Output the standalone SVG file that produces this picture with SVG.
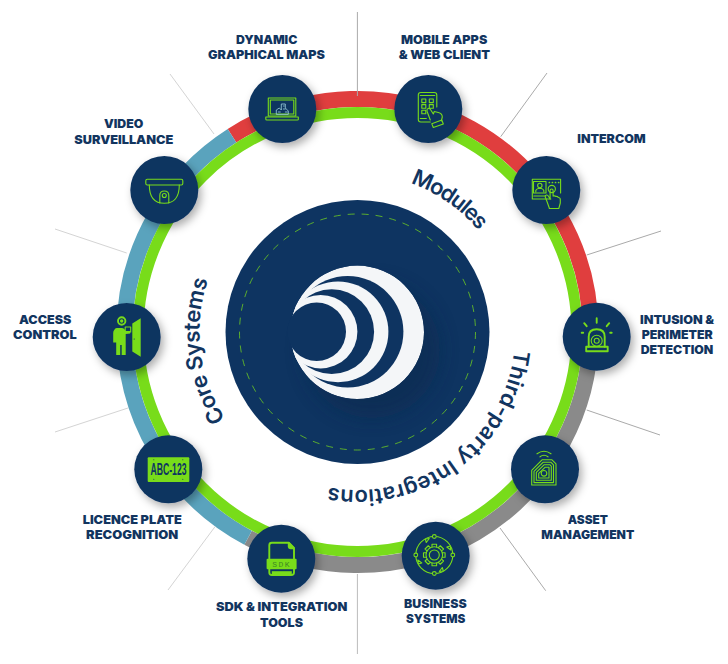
<svg xmlns="http://www.w3.org/2000/svg" xmlns:xlink="http://www.w3.org/1999/xlink" width="728" height="664" viewBox="0 0 728 664">
<style>
.lbl{font-family:"Inter","Liberation Sans",sans-serif;font-weight:900;font-size:12px;fill:#12355f}
.curve{font-family:"Inter","Open Sans","Liberation Sans",sans-serif;font-weight:600;font-size:22px;fill:#12355f}
.disc{fill:#0e3461;filter:url(#sh)}
.ic{fill:none;stroke:#78dc1a;stroke-width:1.1;stroke-linejoin:round;stroke-linecap:round}
.ic2{fill:none;stroke:#78dc1a;stroke-width:1.9;stroke-linejoin:round;stroke-linecap:round}
.fg{fill:#78dc1a}
.spoke{fill:none;stroke-width:1}
</style>
<defs>
<filter id="sh" x="-40%" y="-40%" width="190%" height="190%"><feDropShadow dx="3" dy="4" stdDeviation="4.5" flood-color="#000" flood-opacity=".32"/></filter>
<filter id="soft" x="-40%" y="-40%" width="180%" height="180%"><feGaussianBlur stdDeviation="9"/></filter>
<clipPath id="logoClip"><circle cx="357.3" cy="332.3" r="66.7"/></clipPath>
<clipPath id="mainClip"><circle cx="357.5" cy="332" r="132"/></clipPath>
<path id="track" d="M357.5 174A158 158 0 1 1 357.4 174"/>
<path id="tooth" d="M-2.3 -8V-10.8H2.3V-8"/>
</defs>

<g id="connectors">
<g id="ring">
<path d="M232 135.7A233 233 0 0 1 590.5 336.1" fill="none" stroke="#e03e3e" stroke-width="16"/>
<path d="M590.5 336.1A233 233 0 0 1 248.1 537.7" fill="none" stroke="#8a8a8a" stroke-width="16"/>
<path d="M248.1 537.7A233 233 0 0 1 232 135.7" fill="none" stroke="#5aa3bd" stroke-width="16"/>
<circle cx="357.5" cy="332" r="219.5" fill="none" stroke="#78dc1a" stroke-width="11"/>
</g>
<path class="spoke" stroke="#aaa" d="M357.4 12V96"/>
<path class="spoke" stroke="#aaa" d="M500.7 136.7L547 73"/>
<path class="spoke" stroke="#aaa" d="M586.7 255L661 231"/>
<path class="spoke" stroke="#aaa" d="M586.7 410L660 435"/>
<path class="spoke" stroke="#aaa" d="M500 528L545.7 590.7"/>
<path class="spoke" stroke="#bbb" d="M357.4 574V654"/>
<path class="spoke" stroke="#d4d4d4" d="M215 526.7L168 590"/>
<path class="spoke" stroke="#d4d4d4" d="M128 408L55 432"/>
<path class="spoke" stroke="#d4d4d4" d="M126.7 253L55 229"/>
<path class="spoke" stroke="#d4d4d4" d="M214 134L170 74"/>
</g>

<g id="hub">
<circle cx="357.5" cy="332" r="132" fill="#0e3461"/>
<g clip-path="url(#mainClip)"><circle cx="372" cy="350" r="68" fill="#0a2a50" opacity=".6" filter="url(#soft)"/></g>
<circle cx="357.5" cy="332" r="118" fill="none" stroke="#78dc1a" stroke-opacity=".8" stroke-width=".9" stroke-dasharray="7 7"/>
<g clip-path="url(#logoClip)">
<circle cx="357.3" cy="332.3" r="66.7" fill="#f4f6f8"/>
<circle cx="347.7" cy="331.8" r="55.7" fill="#0e3461"/>
<circle cx="338" cy="331.8" r="50.4" fill="#f4f6f8"/>
<circle cx="331.7" cy="331.7" r="42.4" fill="#0e3461"/>
<circle cx="320.7" cy="331.7" r="36.7" fill="#f4f6f8"/>
</g>
<circle cx="316.7" cy="331.7" r="29.3" fill="#0e3461"/>
</g>

<text class="curve"><textPath xlink:href="#track" href="#track" startOffset="54" textLength="84">Modules</textPath></text>
<text class="curve"><textPath xlink:href="#track" href="#track" startOffset="266" textLength="259">Third-party Integrations</textPath></text>
<text class="curve"><textPath xlink:href="#track" href="#track" startOffset="652" textLength="145">Core Systems</textPath></text>

<g id="node-maps">
<circle class="disc" cx="282.3" cy="109" r="34"/>
<g transform="translate(282.3 109)">
<rect class="ic" x="-14" y="-11" width="27.5" height="18"/>
<rect class="ic" x="-12" y="-9" width="23.5" height="14" stroke-width=".7"/>
<path class="ic" d="M-16.5 8H16V10.5Q16 11 15 11H-15.5Q-16.5 11 -16.5 10Z"/>
<path class="ic" style="stroke:#9fd3de;stroke-width:.8" d="M-6 5V1L-3 -1L-1 1V-5H3V-1L6 2V5ZM-4 3H-2M1 -3H2M1 0H3M3 3H5"/>
<text class="lbl" x="236" y="44.3" textLength="61.3" lengthAdjust="spacingAndGlyphs" transform="translate(-282.3 -109)">DYNAMIC</text>
<text class="lbl" x="208" y="59.3" textLength="117" lengthAdjust="spacingAndGlyphs" transform="translate(-282.3 -109)">GRAPHICAL MAPS</text>
</g>
</g>

<g id="node-mobile">
<circle class="disc" cx="428.3" cy="109" r="34"/>
<g transform="translate(428.3 109)">
<path class="ic" d="M2 13H-7.5Q-10 13 -10 10.5V-14Q-10 -16.5 -7.5 -16.5H6Q8.5 -16.5 8.5 -14V-2"/>
<path class="ic" d="M-8 9.5H-2M-8 -13.5H6.5"/>
<rect class="ic" x="-6.5" y="-10" width="4" height="3.6"/><rect class="ic" x="1" y="-10" width="4" height="3.6"/>
<rect class="ic" x="-6.5" y="-4.4" width="4" height="3.6"/><rect class="ic" x="1" y="-4.4" width="4" height="3.6"/>
<rect class="ic" x="-6.5" y="1.2" width="4" height="3.6"/>
<path class="ic" d="M2 11L-1 3Q-2 0 0 -0.5Q1.5 -1 2.5 1L5 5L6 2.5L10 3.5Q14 4.5 14 8L13 12"/>
<path class="ic" d="M3.5 14.8L13.5 11L15 15L5 18.5Z"/>
<text class="lbl" x="401" y="44.3" textLength="86.3" lengthAdjust="spacingAndGlyphs" transform="translate(-428.3 -109)">MOBILE APPS</text>
<text class="lbl" x="398.7" y="59.3" textLength="91.3" lengthAdjust="spacingAndGlyphs" transform="translate(-428.3 -109)">&amp; WEB CLIENT</text>
</g>
</g>

<g id="node-intercom">
<circle class="disc" cx="546.3" cy="190" r="34"/>
<g transform="translate(546.3 190)">
<path class="ic" d="M4.5 9H-14V-10.7H14.3V3"/>
<rect class="ic" x="-12.8" y="-8.5" width="12.5" height="11.5"/>
<circle class="ic" cx="-6.5" cy="-4.5" r="2.2"/>
<path class="ic" d="M-10.5 2V0.5Q-10 -1 -8 -1.5H-5Q-3 -1 -2.5 0.5V2"/>
<path class="ic" d="M-12.5 6H-0.5"/>
<path class="ic" stroke-dasharray=".1 3" style="stroke-width:1.7" d="M3 -7.5H13"/>
<circle class="ic" cx="5.5" cy="-1" r="3.6"/>
<path class="ic" d="M3 18L0.5 11L-1 7Q-1.5 5.5 0 5Q1.5 4.7 2.3 6.5L3.8 9V0.5Q3.8 -1 5.3 -1Q6.8 -1 6.8 0.5V6Q9 5.5 9.5 6.5Q11.5 6 12 7.5Q14 7.5 14 9.5V13L12.5 18.5H3Z"/>
<text class="lbl" x="577.3" y="142.7" textLength="68.4" lengthAdjust="spacingAndGlyphs" transform="translate(-546.3 -190)">INTERCOM</text>
</g>
</g>

<g id="node-intrusion">
<circle class="disc" cx="596.7" cy="336.7" r="34"/>
<g transform="translate(596.7 336.7)">
<rect class="ic2" x="-10.5" y="10" width="21.5" height="4.5"/>
<path class="ic2" d="M-8 10V0Q-8 -7.5 0 -7.5Q8 -7.5 8 0V10"/>
<circle class="ic" cx="0" cy="4" r="5.5"/><circle class="ic" cx="0" cy="4" r="2.5"/>
<path class="ic2" d="M0 -14V-18.5M-10 -10.5L-12.5 -13.5M10 -10.5L12.5 -13.5M-13.5 -4H-15M13.5 -4H15"/>
<text class="lbl" x="640" y="324" textLength="74" lengthAdjust="spacingAndGlyphs" transform="translate(-596.7 -336.7)">INTUSION &amp;</text>
<text class="lbl" x="641.7" y="339.3" textLength="71" lengthAdjust="spacingAndGlyphs" transform="translate(-596.7 -336.7)">PERIMETER</text>
<text class="lbl" x="640.7" y="354.3" textLength="72.6" lengthAdjust="spacingAndGlyphs" transform="translate(-596.7 -336.7)">DETECTION</text>
</g>
</g>

<g id="node-asset">
<circle class="disc" cx="545" cy="469.3" r="34"/>
<g transform="translate(545 469.3)">
<path class="ic" d="M-3 -9.5H7L11 -5.5V15.7H-13.3V1Z"/>
<path class="ic" d="M-2 -7L6 -7L8.5 -4.5V13.3H-11V2Z"/>
<path class="ic" d="M-1 -4.5H5L6.3 -3.2V11H-8.7V3Z"/>
<path class="ic" d="M0 -2H4V8.7H-6.3V4Z"/>
<circle class="ic" cx="-1" cy="4" r="2.8"/>
<path class="ic" d="M-5 -12.5Q-1 -15.5 3 -12.5M-8 -15.5Q-1 -20.5 6 -15.5"/>
<text class="lbl" x="567.7" y="524" textLength="40.3" lengthAdjust="spacingAndGlyphs" transform="translate(-545 -469.3)">ASSET</text>
<text class="lbl" x="541.3" y="539" textLength="93" lengthAdjust="spacingAndGlyphs" transform="translate(-545 -469.3)">MANAGEMENT</text>
</g>
</g>

<g id="node-business">
<circle class="disc" cx="435.7" cy="555.7" r="34"/>
<g transform="translate(434.3 555)">
<circle class="ic" r="8.3"/><circle class="ic" r="5"/>
<g class="ic"><use href="#tooth"/><use href="#tooth" transform="rotate(45)"/><use href="#tooth" transform="rotate(90)"/><use href="#tooth" transform="rotate(135)"/><use href="#tooth" transform="rotate(180)"/><use href="#tooth" transform="rotate(225)"/><use href="#tooth" transform="rotate(270)"/><use href="#tooth" transform="rotate(315)"/></g>
<circle class="ic" r="18.5"/>
<g fill="#0e3461" stroke="#78dc1a" stroke-width="1.1"><circle cx="0" cy="-18.5" r="1.9"/><circle cx="18.5" cy="0" r="1.9"/><circle cx="0" cy="18.5" r="1.9"/><circle cx="-18.5" cy="0" r="1.9"/></g>
<g fill="#0e3461" stroke="#78dc1a" stroke-width="1.1" stroke-linejoin="round"><path d="M-9 -16L-5 -16.5L-8 -12.5Z"/><path d="M16 -9L16.5 -5L12.5 -8Z"/><path d="M9 16L5 16.5L8 12.5Z"/><path d="M-16 9L-16.5 5L-12.5 8Z"/></g>
<text class="lbl" x="404" y="608" textLength="62.7" lengthAdjust="spacingAndGlyphs" transform="translate(-434.3 -555)">BUSINESS</text>
<text class="lbl" x="406" y="623.3" textLength="59.3" lengthAdjust="spacingAndGlyphs" transform="translate(-434.3 -555)">SYSTEMS</text>
</g>
</g>

<g id="node-sdk">
<circle class="disc" cx="281.3" cy="558.7" r="34"/>
<g transform="translate(281.3 558.7)">
<path class="ic2" d="M-12 0V-13.5Q-12 -16 -9.5 -16H7.5L12.7 -10.8V0M-12 10.3V13.5Q-12 16.3 -9.5 16.3H10Q12.7 16.3 12.7 13.5V10.3"/>
<path class="fg" d="M6.5 -16.5H8L13 -11.5V-9.5H9.5Q6.5 -9.5 6.5 -12.5Z"/>
<rect class="fg" x="-14.7" y="0" width="30" height="10.5" rx="1"/>
<rect class="fg" x="-9.5" y="12.5" width="20" height="3.8"/>
<text x="0.3" y="8" text-anchor="middle" font-family="Liberation Mono,monospace" font-size="8" letter-spacing="1.5" fill="#3f8a22">SDK</text>
<text class="lbl" x="216" y="611.3" textLength="131.3" lengthAdjust="spacingAndGlyphs" transform="translate(-281.3 -558.7)">SDK &amp; INTEGRATION</text>
<text class="lbl" x="260" y="626.7" textLength="43" lengthAdjust="spacingAndGlyphs" transform="translate(-281.3 -558.7)">TOOLS</text>
</g>
</g>

<g id="node-licence">
<circle class="disc" cx="168.3" cy="469.3" r="34"/>
<g transform="translate(168.3 469.3)">
<rect class="fg" x="-20.6" y="-12" width="41.6" height="24.7" rx="1"/>
<text x="0.2" y="6" text-anchor="middle" font-family="Liberation Sans,sans-serif" font-weight="700" font-size="16" fill="#0e3461" textLength="36" lengthAdjust="spacingAndGlyphs">ABC-123</text>
<g fill="#0e3461"><circle cx="-14.5" cy="-9.5" r=".5"/><circle cx="14.5" cy="-9.5" r=".5"/><circle cx="-14.5" cy="10" r=".5"/><circle cx="14.5" cy="10" r=".5"/></g>
<text class="lbl" x="82.7" y="524" textLength="99" lengthAdjust="spacingAndGlyphs" transform="translate(-168.3 -469.3)">LICENCE PLATE</text>
<text class="lbl" x="86" y="539.3" textLength="92.3" lengthAdjust="spacingAndGlyphs" transform="translate(-168.3 -469.3)">RECOGNITION</text>
</g>
</g>

<g id="node-access">
<circle class="disc" cx="126.7" cy="337" r="34"/>
<g transform="translate(126.7 337)">
<circle class="ic2" cx="-5" cy="-16" r="3.7"/>
<circle class="fg" cx="-5" cy="-16" r="1.7"/>
<path class="fg" d="M-12.5 -7Q-13.5 -6 -13.5 -4V5.5H-10.5V18H-6.5V8H-5V18H-1V-3L3.5 -3.5V-6L-1 -6L-2.5 -8Q-3.5 -9 -5 -9H-10Q-11.5 -9 -12.5 -7Z"/>
<rect class="ic" x="-1.5" y="-10" width="5.5" height="5"/>
<path class="fg" d="M5.6 -13.5L14 -18.7V19.7L5.6 14.5Z"/>
<circle cx="7.5" cy="2" r=".6" fill="#0e3461"/>
<text class="lbl" x="19" y="323.7" textLength="52.3" lengthAdjust="spacingAndGlyphs" transform="translate(-126.7 -337)">ACCESS</text>
<text class="lbl" x="13" y="338.7" textLength="63.7" lengthAdjust="spacingAndGlyphs" transform="translate(-126.7 -337)">CONTROL</text>
</g>
</g>

<g id="node-video">
<circle class="disc" cx="164.3" cy="190" r="34"/>
<g transform="translate(164.3 190)">
<rect class="ic" x="-18.5" y="-10.7" width="37" height="5.7" rx="1.5"/>
<path class="ic" d="M-15 -5Q-15 13.3 0 13.3Q15 13.3 15 -5"/>
<path class="ic" d="M-4.5 13V5.5Q-4.5 1 0 1Q4.5 1 4.5 5.5V13"/>
<circle class="ic" cx="0" cy="5.5" r="2"/>
<text class="lbl" x="104" y="128.3" textLength="39.3" lengthAdjust="spacingAndGlyphs" transform="translate(-164.3 -190)">VIDEO</text>
<text class="lbl" x="74.3" y="143.7" textLength="99" lengthAdjust="spacingAndGlyphs" transform="translate(-164.3 -190)">SURVEILLANCE</text>
</g>
</g>
</svg>
